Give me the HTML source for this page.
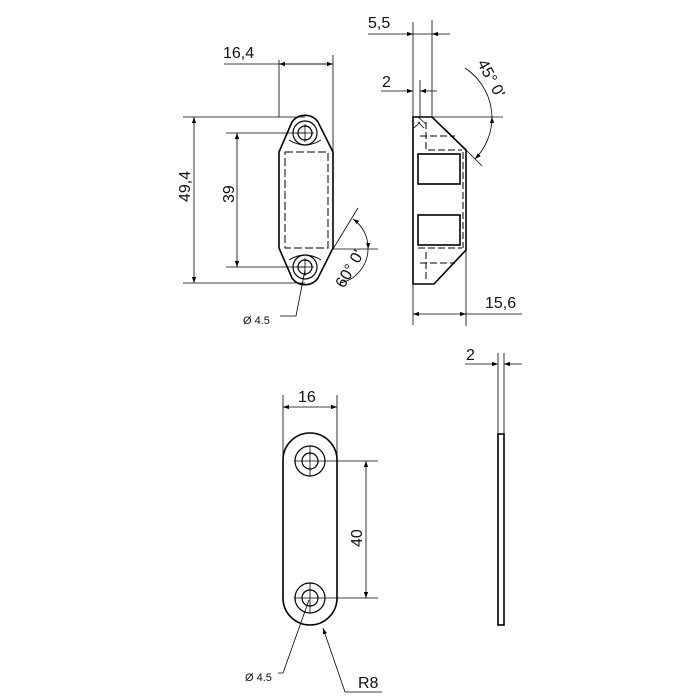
<!DOCTYPE html>
<html><head><style>body{margin:0;background:#fff}svg{display:block}text{font-family:"Liberation Sans",sans-serif;fill:#111}</style></head>
<body>
<svg width="700" height="700" viewBox="0 0 700 700" xmlns="http://www.w3.org/2000/svg">
<defs>
<marker id="a" viewBox="0 0 10 10" refX="10" refY="5" markerWidth="8" markerHeight="6" orient="auto-start-reverse" markerUnits="userSpaceOnUse"><path d="M0,1.5 L10,5 L0,8.5 z" fill="#000"/></marker>
</defs>
<g stroke="#000" fill="none">
<g stroke-width="1.6">
<path d="M279,152 L292,122 A16,16 0 0 1 318,122 L333,152 L333,248 L318,278 A16,16 0 0 1 292,278 L279,248 Z"/>
</g>
<g stroke-width="1.2">
<circle cx="305" cy="133" r="12"/><circle cx="305" cy="133" r="7"/>
<circle cx="305" cy="267" r="12"/><circle cx="305" cy="267" r="7"/>
<path d="M285,152 H328 V248 H285 Z" stroke-dasharray="8,3" stroke-width="1"/>
<path d="M289,140 Q305,150 321,140 M289,260 Q305,250 321,260" stroke-width="1"/>
</g>
<g stroke-width="0.8">
<path d="M296,133 H314 M305,124 V142 M296,267 H314 M305,258 V276"/>
<line x1="279" y1="60" x2="279" y2="117"/><line x1="333" y1="55" x2="333" y2="248"/>
<line x1="224" y1="64" x2="333" y2="64"/>
<line x1="279" y1="64" x2="333" y2="64" marker-start="url(#a)" marker-end="url(#a)"/>
<line x1="183" y1="117" x2="305" y2="117"/><line x1="183" y1="283" x2="305" y2="283"/>
<line x1="194" y1="117" x2="194" y2="283" marker-start="url(#a)" marker-end="url(#a)"/>
<line x1="226" y1="133" x2="305" y2="133"/><line x1="226" y1="267" x2="305" y2="267"/>
<line x1="237" y1="133" x2="237" y2="267" marker-start="url(#a)" marker-end="url(#a)"/>
<line x1="333" y1="249" x2="378" y2="249"/><line x1="333" y1="249" x2="358" y2="208"/>
<path d="M353,219 A35,35 0 0 1 368,249" marker-start="url(#a)" marker-end="url(#a)"/>
<path d="M368,249 A35,35 0 0 1 340,283"/>
<path d="M305,270 L296,316 H280"/>
</g>
<g stroke-width="1.6">
<path d="M413,117 H432 L466,150 V250 L434,284 H413 Z"/>
<rect x="418" y="154" width="42" height="30"/><rect x="418" y="215" width="42" height="30"/>
</g>
<g stroke-width="1" stroke-dasharray="7,3">
<path d="M426,122 V150 H462 M420,136 H455 M418,248 H462 M426,252 V280 M420,263 H455 M463,152 V248"/>
</g>
<g stroke-width="0.8">
<path d="M418,117 L426,124 M418,122 L424,128 M414,128 L420,122"/>
<line x1="413" y1="22" x2="413" y2="117"/><line x1="432" y1="20" x2="432" y2="117"/>
<line x1="368" y1="34" x2="413" y2="34" marker-end="url(#a)"/><line x1="450" y1="34" x2="432" y2="34" marker-end="url(#a)"/>
<line x1="413" y1="34" x2="432" y2="34"/>
<line x1="420" y1="80" x2="420" y2="117"/>
<line x1="381" y1="91" x2="413" y2="91" marker-end="url(#a)"/><line x1="437" y1="91" x2="420" y2="91" marker-end="url(#a)"/>
<line x1="432" y1="117" x2="503" y2="117"/><line x1="466" y1="150" x2="482" y2="166"/>
<path d="M465,68 A60,60 0 0 1 492,117"/>
<path d="M492,117 A60,60 0 0 1 475,159" marker-start="url(#a)" marker-end="url(#a)"/>
<line x1="413" y1="284" x2="413" y2="325"/><line x1="466" y1="250" x2="466" y2="326"/>
<line x1="413" y1="314" x2="466" y2="314" marker-start="url(#a)" marker-end="url(#a)"/>
<line x1="466" y1="314" x2="522" y2="314"/>
</g>
<g stroke-width="1.6">
<path d="M283,460 A27,27 0 0 1 337,460 V598 A27,27 0 0 1 283,598 Z"/>
</g>
<g stroke-width="1.2">
<circle cx="310" cy="461" r="15"/><circle cx="310" cy="461" r="8"/>
<circle cx="310" cy="598" r="15"/><circle cx="310" cy="598" r="8"/>
</g>
<g stroke-width="0.8">
<path d="M294,461 H326 M310,446 V476 M294,598 H326 M310,583 V613"/>
<line x1="283" y1="395" x2="283" y2="460"/><line x1="337" y1="395" x2="337" y2="460"/>
<line x1="283" y1="407" x2="337" y2="407" marker-start="url(#a)" marker-end="url(#a)"/>
<line x1="326" y1="461" x2="378" y2="461"/><line x1="326" y1="598" x2="378" y2="598"/>
<line x1="366" y1="461" x2="366" y2="598" marker-start="url(#a)" marker-end="url(#a)"/>
<path d="M309,600 L283,673 H278"/>
<path d="M345,692 L323,628" marker-end="url(#a)"/><path d="M345,692 H382"/>
<line x1="498" y1="353" x2="498" y2="434"/><line x1="504" y1="353" x2="504" y2="434"/>
<line x1="465" y1="364" x2="498" y2="364" marker-end="url(#a)"/><line x1="522" y1="364" x2="504" y2="364" marker-end="url(#a)"/>
</g>
<rect x="498" y="434" width="6" height="191" stroke-width="1.6"/>
</g>
<g font-size="16">
<text x="223" y="58">16,4</text>
<text transform="translate(190,202) rotate(-90)">49,4</text>
<text transform="translate(234,203) rotate(-90)">39</text>
<text transform="translate(344,289) rotate(-60)">60° 0'</text>
<text x="243" y="324" font-size="11">Ø 4.5</text>
<text x="368" y="28">5,5</text>
<text x="382" y="87">2</text>
<text transform="translate(477,63) rotate(62)">45° 0'</text>
<text x="485" y="308">15,6</text>
<text x="298" y="402">16</text>
<text transform="translate(362,547) rotate(-90)">40</text>
<text x="245" y="681" font-size="11">Ø 4.5</text>
<text x="358" y="688">R8</text>
<text x="466" y="360">2</text>
</g>
</svg>
</body></html>
